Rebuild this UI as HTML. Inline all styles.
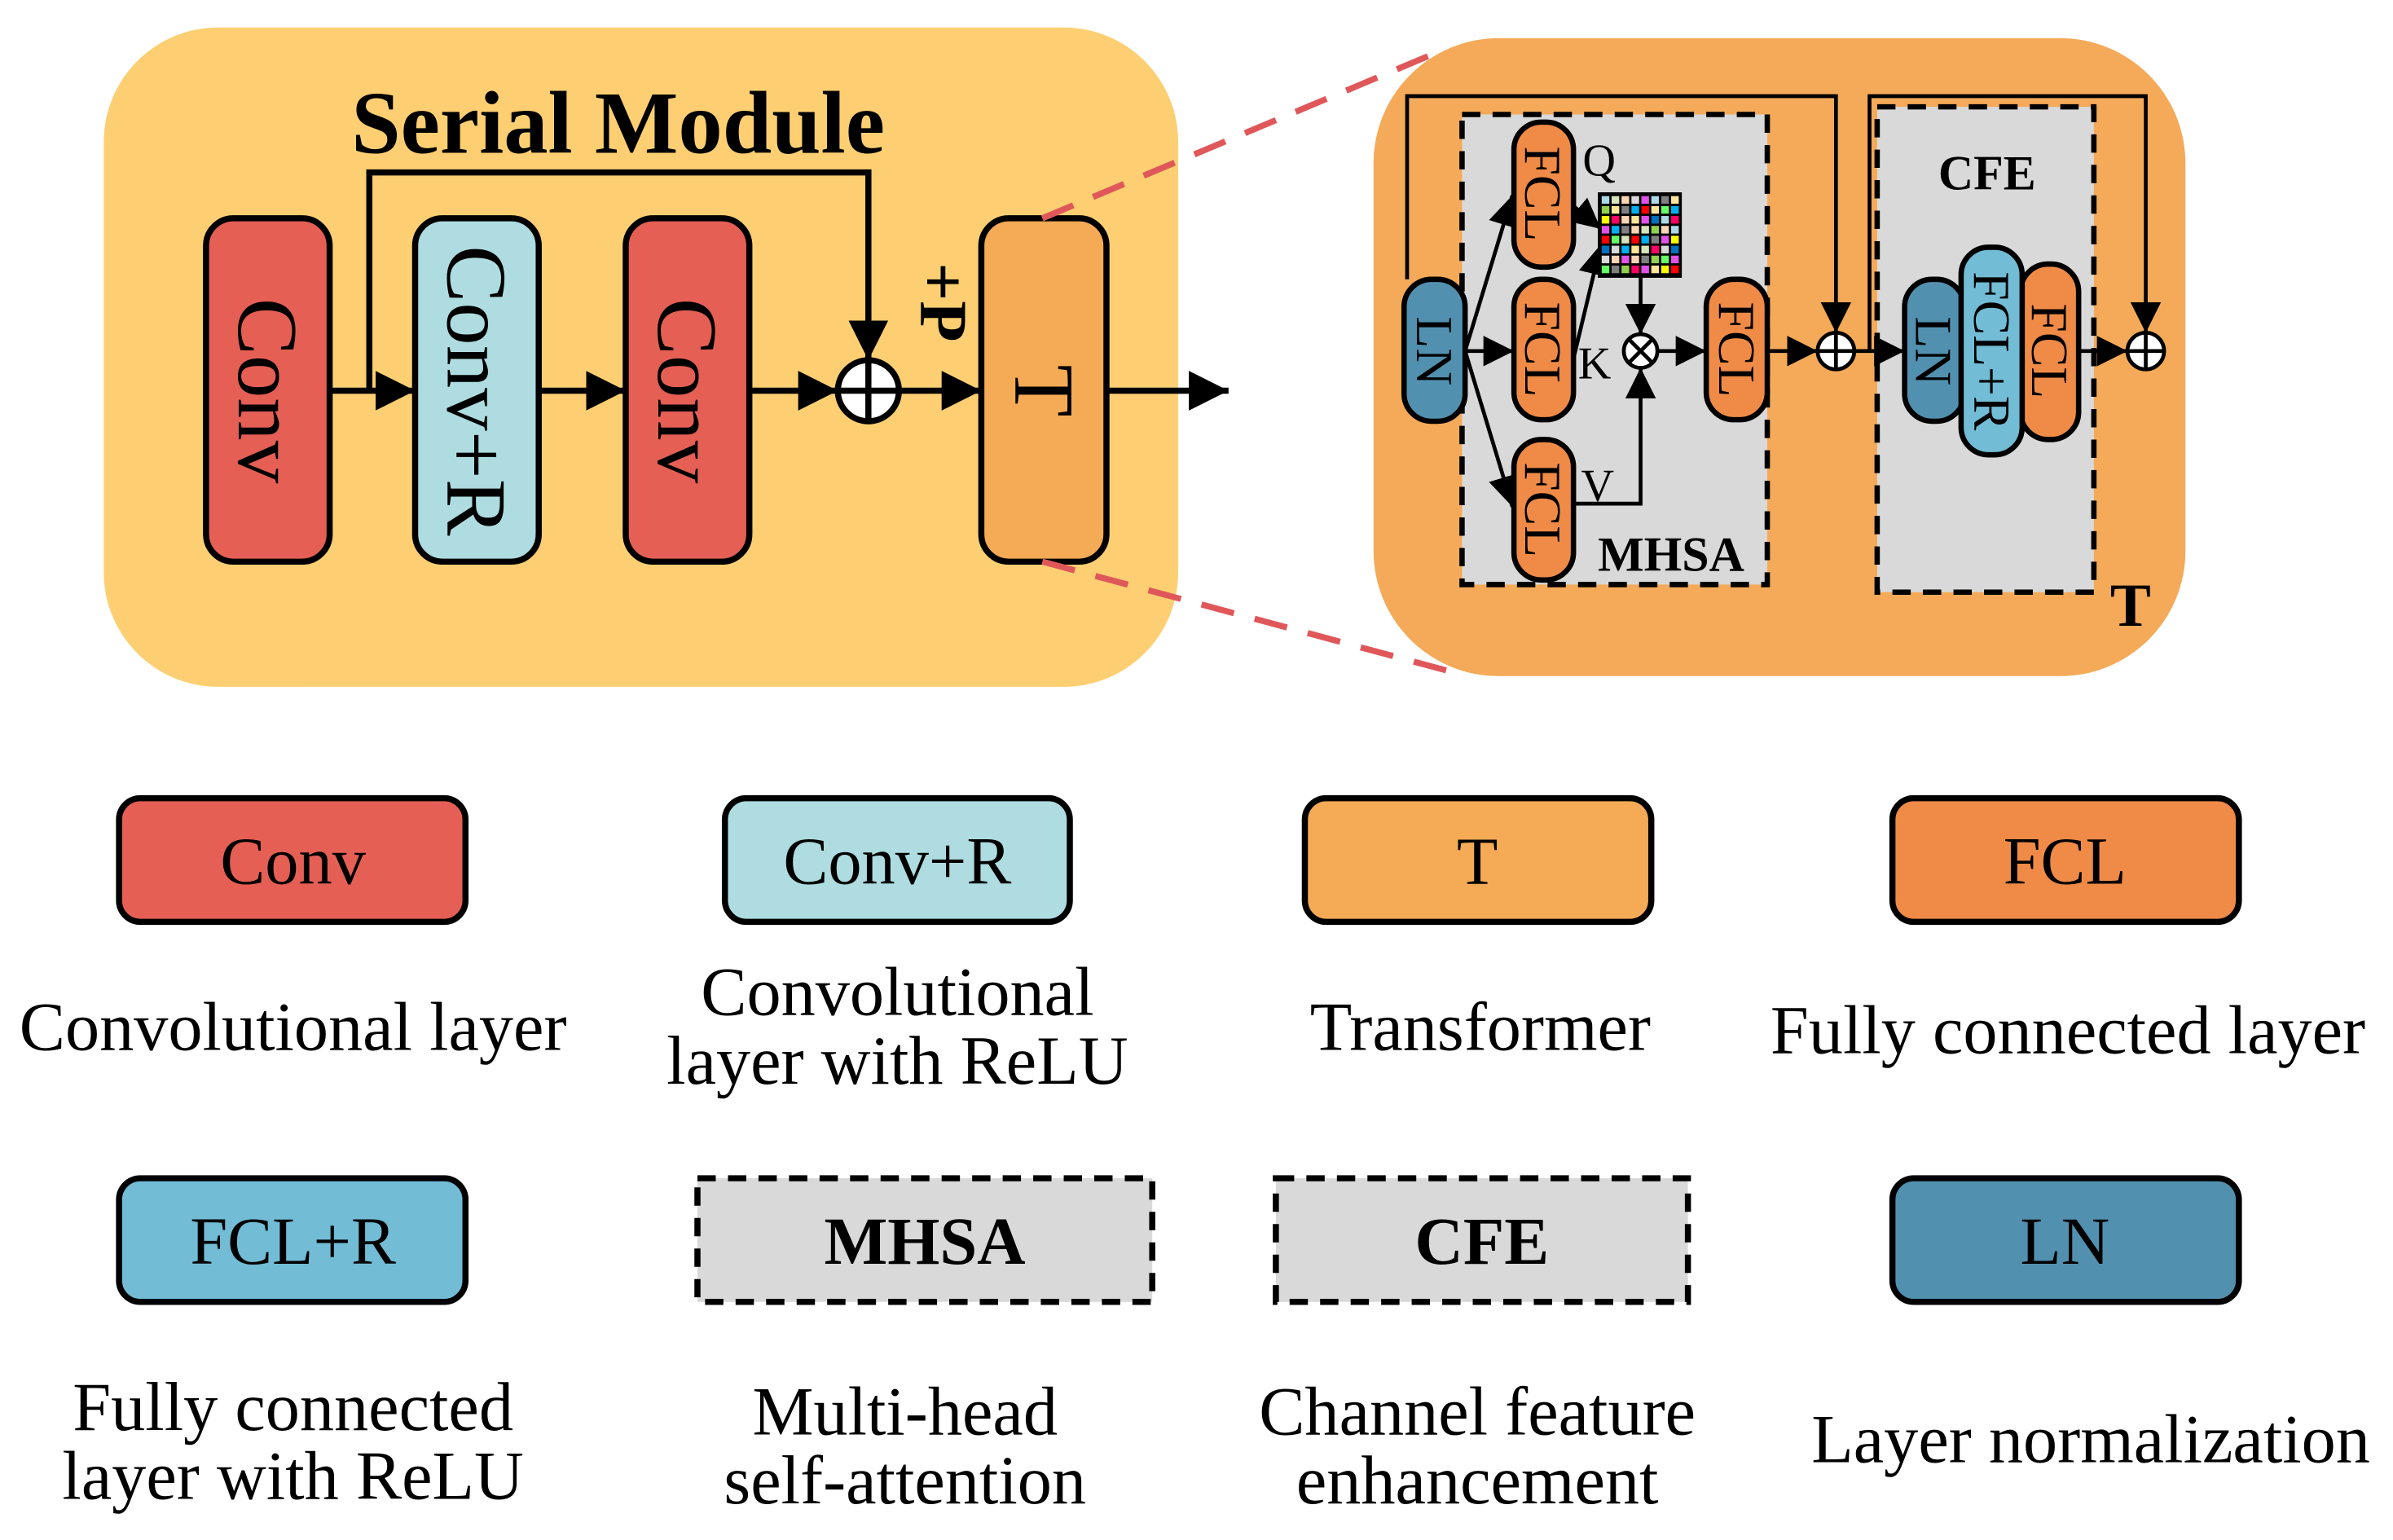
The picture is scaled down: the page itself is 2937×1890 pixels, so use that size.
<!DOCTYPE html>
<html><head><meta charset="utf-8"><style>
html,body{margin:0;padding:0;background:#fff;}
svg{display:block;}
text{font-family:"Liberation Serif",serif;}
</style></head><body>
<svg width="2937" height="1890" viewBox="0 0 1568 1009" preserveAspectRatio="none" xmlns="http://www.w3.org/2000/svg">
<defs>
<marker id="a" viewBox="0 0 10 10" refX="10" refY="5" markerWidth="6.5" markerHeight="6.5" orient="auto" markerUnits="strokeWidth"><path d="M0,0 L10,5 L0,10 z" fill="#000"/></marker>
<marker id="b" viewBox="0 0 10 10" refX="10" refY="5" markerWidth="8" markerHeight="8" orient="auto" markerUnits="strokeWidth"><path d="M0,0 L10,5 L0,10 z" fill="#000"/></marker>
</defs>
<!-- left panel -->
<rect x="68" y="18" width="704" height="432" rx="75" fill="#FDCF72"/>
<text x="405" y="100" font-size="58" font-weight="bold" text-anchor="middle">Serial Module</text>
<g stroke="#000" stroke-width="4">
<rect x="135" y="143" width="81" height="225" rx="18" fill="#E55F55"/>
<rect x="272" y="143" width="81" height="225" rx="18" fill="#AEDCE0"/>
<rect x="410" y="143" width="81" height="225" rx="18" fill="#E55F55"/>
<rect x="643" y="143" width="82" height="225" rx="18" fill="#F5AA56"/>
</g>
<g font-size="56" text-anchor="middle" dominant-baseline="central">
<text transform="translate(175,256) rotate(90)">Conv</text>
<text transform="translate(312,256) rotate(90)">Conv+R</text>
<text transform="translate(450,256) rotate(90)">Conv</text>
<text transform="translate(684,256) rotate(90)">T</text>
<text transform="translate(618,198) rotate(90)" font-size="44" font-weight="bold">+P</text>
</g>
<g stroke="#000" stroke-width="4" fill="none">
<line x1="216" y1="256" x2="272" y2="256" marker-end="url(#a)"/>
<line x1="353" y1="256" x2="410" y2="256" marker-end="url(#a)"/>
<line x1="491" y1="256" x2="549" y2="256" marker-end="url(#a)"/>
<line x1="589" y1="256" x2="643" y2="256" marker-end="url(#a)"/>
<line x1="725" y1="256" x2="805" y2="256" marker-end="url(#a)"/>
<polyline points="242,256 242,113 569,113 569,236" marker-end="url(#a)"/>
<circle cx="569" cy="256" r="20" fill="#fff"/>
<line x1="549" y1="256" x2="589" y2="256"/><line x1="569" y1="236" x2="569" y2="276"/>
</g>
<g stroke="#E0575A" stroke-width="4" stroke-dasharray="22,14">
<line x1="683" y1="143" x2="940" y2="35"/>
<line x1="683" y1="368" x2="958" y2="442"/>
</g>
<!-- right panel -->
<rect x="900" y="25" width="532" height="418" rx="82" fill="#F4AA58"/>
<g stroke="#000" stroke-width="3.5" stroke-dasharray="12,8">
<rect x="958" y="75" width="200" height="308" fill="#D9D9D9"/>
<rect x="1230" y="70" width="142" height="318" fill="#D9D9D9"/>
</g>
<text x="1302" y="124" font-size="32" font-weight="bold" text-anchor="middle">CFE</text>
<text x="1095" y="374" font-size="32" font-weight="bold" text-anchor="middle">MHSA</text>
<text x="1396" y="410" font-size="40" font-weight="bold" text-anchor="middle">T</text>
<g stroke="#000" stroke-width="2.5" fill="none">
<polyline points="922,183 922,63 1203,63 1203,218" marker-end="url(#b)"/>
<polyline points="1225,230 1225,63 1406,63 1406,218" marker-end="url(#b)"/>
<line x1="960" y1="230" x2="992" y2="230" marker-end="url(#b)"/>
<line x1="960" y1="230" x2="991" y2="128" marker-end="url(#b)"/>
<line x1="960" y1="230" x2="991" y2="332" marker-end="url(#b)"/>
<line x1="1031" y1="135" x2="1049" y2="150" marker-end="url(#b)"/>
<line x1="1031" y1="235" x2="1049" y2="160" marker-end="url(#b)"/>
<line x1="1075" y1="182" x2="1075" y2="219" marker-end="url(#b)"/>
<polyline points="1031,330 1075,330 1075,241" marker-end="url(#b)"/>
<line x1="1086" y1="230" x2="1118" y2="230" marker-end="url(#b)"/>
<line x1="1158" y1="230" x2="1191" y2="230" marker-end="url(#b)"/>
<line x1="1215" y1="230" x2="1248" y2="230" marker-end="url(#b)"/>
<line x1="1362" y1="230" x2="1394" y2="230" marker-end="url(#b)"/>
</g>
<g stroke="#000" stroke-width="3.5">
<rect x="920" y="183" width="40" height="93" rx="18" fill="#5290AF"/>
<rect x="992" y="80" width="39" height="95" rx="18" fill="#EF8B47"/>
<rect x="992" y="183" width="39" height="92" rx="18" fill="#EF8B47"/>
<rect x="992" y="288" width="39" height="92" rx="18" fill="#EF8B47"/>
<rect x="1118" y="183" width="40" height="92" rx="18" fill="#EF8B47"/>
<rect x="1248" y="183" width="39" height="93" rx="18" fill="#5290AF"/>
<rect x="1324" y="173" width="38" height="115" rx="18" fill="#EF8B47"/>
<rect x="1285" y="162" width="40" height="136" rx="18" fill="#72BCD5"/>
</g>
<g font-size="34" text-anchor="middle" dominant-baseline="central">
<text transform="translate(940,230) rotate(90)">LN</text>
<text transform="translate(1011,127) rotate(90)">FCL</text>
<text transform="translate(1011,229) rotate(90)">FCL</text>
<text transform="translate(1011,334) rotate(90)">FCL</text>
<text transform="translate(1138,229) rotate(90)">FCL</text>
<text transform="translate(1267,230) rotate(90)">LN</text>
<text transform="translate(1305,230) rotate(90)">FCL+R</text>
<text transform="translate(1343,230) rotate(90)">FCL</text>
</g>
<g font-size="30">
<text x="1037" y="115">Q</text><text x="1034" y="248">K</text><text x="1036" y="328">V</text>
</g>
<g stroke="#000" stroke-width="2.5">
<circle cx="1075" cy="230" r="11" fill="#fff"/>
<line x1="1068" y1="223" x2="1082" y2="237"/><line x1="1082" y1="223" x2="1068" y2="237"/>
<circle cx="1203" cy="230" r="12" fill="#fff"/>
<line x1="1191" y1="230" x2="1215" y2="230"/><line x1="1203" y1="218" x2="1203" y2="242"/>
<circle cx="1406" cy="230" r="12" fill="#fff"/>
<line x1="1394" y1="230" x2="1418" y2="230"/><line x1="1406" y1="218" x2="1406" y2="242"/>
</g>
<!-- matrix -->
<rect x="1047" y="126" width="55" height="56" fill="#000"/>
<g>
<rect x="1049.5" y="128.5" width="5" height="5" fill="#ADD8E6"/><rect x="1056" y="128.5" width="5" height="5" fill="#D8E4BC"/><rect x="1062.5" y="128.5" width="5" height="5" fill="#FCD5B4"/><rect x="1069" y="128.5" width="5" height="5" fill="#D9D9D9"/><rect x="1075.5" y="128.5" width="5" height="5" fill="#E052E8"/><rect x="1082" y="128.5" width="5" height="5" fill="#ADD8E6"/><rect x="1088.5" y="128.5" width="5" height="5" fill="#808080"/><rect x="1095" y="128.5" width="5" height="5" fill="#FFE699"/>
<rect x="1049.5" y="135" width="5" height="5" fill="#92D050"/><rect x="1056" y="135" width="5" height="5" fill="#FFE699"/><rect x="1062.5" y="135" width="5" height="5" fill="#808080"/><rect x="1069" y="135" width="5" height="5" fill="#00B0F0"/><rect x="1075.5" y="135" width="5" height="5" fill="#FF0000"/><rect x="1082" y="135" width="5" height="5" fill="#FFE699"/><rect x="1088.5" y="135" width="5" height="5" fill="#66FF66"/><rect x="1095" y="135" width="5" height="5" fill="#00B0F0"/>
<rect x="1049.5" y="141.5" width="5" height="5" fill="#FFFF00"/><rect x="1056" y="141.5" width="5" height="5" fill="#FF0066"/><rect x="1062.5" y="141.5" width="5" height="5" fill="#FCD5B4"/><rect x="1069" y="141.5" width="5" height="5" fill="#FFE699"/><rect x="1075.5" y="141.5" width="5" height="5" fill="#E052E8"/><rect x="1082" y="141.5" width="5" height="5" fill="#0070C0"/><rect x="1088.5" y="141.5" width="5" height="5" fill="#ADD8E6"/><rect x="1095" y="141.5" width="5" height="5" fill="#FF0066"/>
<rect x="1049.5" y="148" width="5" height="5" fill="#E052E8"/><rect x="1056" y="148" width="5" height="5" fill="#00B0F0"/><rect x="1062.5" y="148" width="5" height="5" fill="#808080"/><rect x="1069" y="148" width="5" height="5" fill="#FCD5B4"/><rect x="1075.5" y="148" width="5" height="5" fill="#D8E4BC"/><rect x="1082" y="148" width="5" height="5" fill="#92D050"/><rect x="1088.5" y="148" width="5" height="5" fill="#FCD5B4"/><rect x="1095" y="148" width="5" height="5" fill="#ADD8E6"/>
<rect x="1049.5" y="154.5" width="5" height="5" fill="#FF0000"/><rect x="1056" y="154.5" width="5" height="5" fill="#66FF66"/><rect x="1062.5" y="154.5" width="5" height="5" fill="#D8E4BC"/><rect x="1069" y="154.5" width="5" height="5" fill="#FF0000"/><rect x="1075.5" y="154.5" width="5" height="5" fill="#00B0F0"/><rect x="1082" y="154.5" width="5" height="5" fill="#808080"/><rect x="1088.5" y="154.5" width="5" height="5" fill="#E052E8"/><rect x="1095" y="154.5" width="5" height="5" fill="#FFFF00"/>
<rect x="1049.5" y="161" width="5" height="5" fill="#0070C0"/><rect x="1056" y="161" width="5" height="5" fill="#D9D9D9"/><rect x="1062.5" y="161" width="5" height="5" fill="#00B0F0"/><rect x="1069" y="161" width="5" height="5" fill="#FFE699"/><rect x="1075.5" y="161" width="5" height="5" fill="#D8E4BC"/><rect x="1082" y="161" width="5" height="5" fill="#FF0066"/><rect x="1088.5" y="161" width="5" height="5" fill="#D9D9D9"/><rect x="1095" y="161" width="5" height="5" fill="#0070C0"/>
<rect x="1049.5" y="167.5" width="5" height="5" fill="#D9D9D9"/><rect x="1056" y="167.5" width="5" height="5" fill="#FCD5B4"/><rect x="1062.5" y="167.5" width="5" height="5" fill="#E052E8"/><rect x="1069" y="167.5" width="5" height="5" fill="#FCD5B4"/><rect x="1075.5" y="167.5" width="5" height="5" fill="#808080"/><rect x="1082" y="167.5" width="5" height="5" fill="#92D050"/><rect x="1088.5" y="167.5" width="5" height="5" fill="#66FF66"/><rect x="1095" y="167.5" width="5" height="5" fill="#E052E8"/>
<rect x="1049.5" y="174" width="5" height="5" fill="#66FF66"/><rect x="1056" y="174" width="5" height="5" fill="#808080"/><rect x="1062.5" y="174" width="5" height="5" fill="#92D050"/><rect x="1069" y="174" width="5" height="5" fill="#FF0066"/><rect x="1075.5" y="174" width="5" height="5" fill="#E052E8"/><rect x="1082" y="174" width="5" height="5" fill="#FFE699"/><rect x="1088.5" y="174" width="5" height="5" fill="#FFFF00"/><rect x="1095" y="174" width="5" height="5" fill="#FF0000"/>
</g>
<!-- legend -->
<g stroke="#000" stroke-width="4">
<rect x="78" y="523" width="227" height="81" rx="14" fill="#E55F55"/>
<rect x="475" y="523" width="226" height="81" rx="14" fill="#AEDCE0"/>
<rect x="855" y="523" width="227" height="81" rx="14" fill="#F5AA56"/>
<rect x="1240" y="523" width="227" height="81" rx="14" fill="#EF8B47"/>
<rect x="78" y="772" width="227" height="81" rx="14" fill="#72BCD5"/>
<rect x="1240" y="772" width="227" height="81" rx="14" fill="#5290AF"/>
</g>
<g stroke="#000" stroke-width="4" stroke-dasharray="12,8">
<rect x="457" y="772" width="298" height="81" fill="#D9D9D9"/>
<rect x="836" y="772" width="270" height="81" fill="#D9D9D9"/>
</g>
<g font-size="44" text-anchor="middle">
<text x="192" y="579">Conv</text>
<text x="588" y="579">Conv+R</text>
<text x="968" y="579">T</text>
<text x="1353" y="579">FCL</text>
<text x="192" y="828">FCL+R</text>
<text x="606" y="828" font-weight="bold">MHSA</text>
<text x="971" y="828" font-weight="bold">CFE</text>
<text x="1353" y="828">LN</text>
</g>
<g font-size="45" text-anchor="middle">
<text x="192" y="688">Convolutional layer</text>
<text x="588" y="665">Convolutional</text>
<text x="588" y="710">layer with ReLU</text>
<text x="970" y="688">Transformer</text>
<text x="1355" y="690">Fully connected layer</text>
<text x="192" y="937">Fully connected</text>
<text x="192" y="982">layer with ReLU</text>
<text x="593" y="940">Multi-head</text>
<text x="593" y="985">self-attention</text>
<text x="968" y="940">Channel feature</text>
<text x="968" y="985">enhancement</text>
<text x="1370" y="958">Layer normalization</text>
</g>
</svg>
</body></html>
